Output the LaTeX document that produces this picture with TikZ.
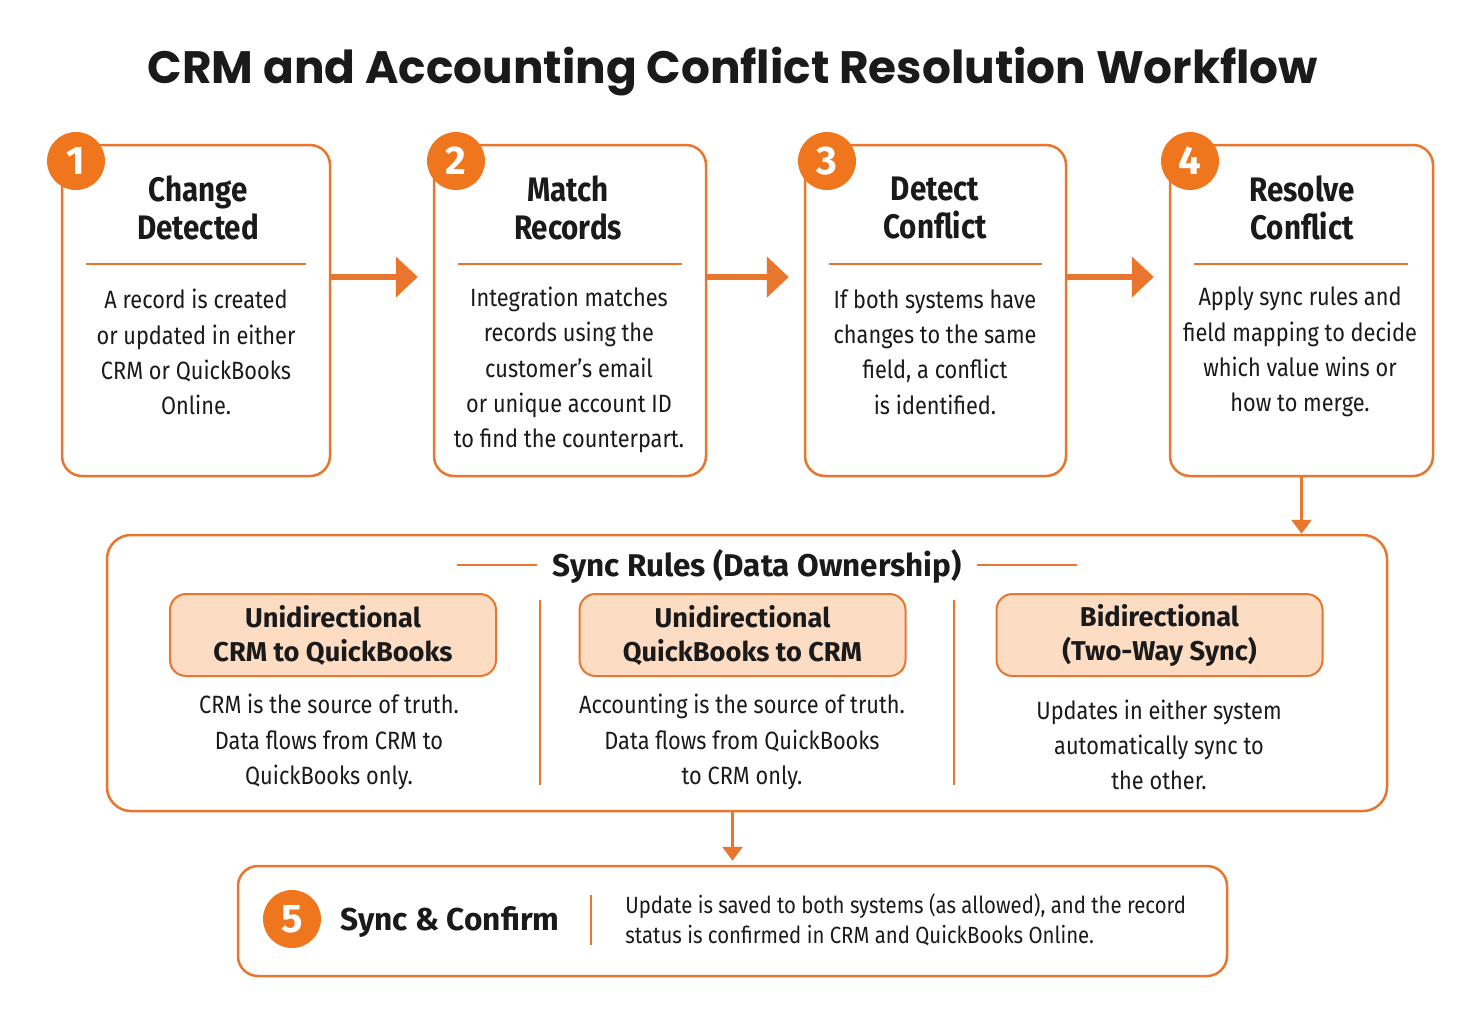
\documentclass[tikz,border=0pt]{standalone}
\usepackage{fontspec}
\setmainfont{Fira Sans}[FakeStretch=0.87]
\newfontfamily\widefont{Fira Sans}
\newfontfamily\titlefont{Poppins}
\usetikzlibrary{arrows.meta, positioning, calc}
\definecolor{accent}{HTML}{E8762D}
\definecolor{badgefill}{HTML}{F0761E}
\definecolor{peach}{HTML}{FCDCC3}
\definecolor{ink}{HTML}{1A1A1A}
\tikzset{ stepbox/.style = { draw = accent
                           , line width    = 1.25pt
                           , rounded corners = 10pt
                           , fill          = white
                           , minimum height = 165.5pt
                           },
          badge/.style   = { circle
                           , fill          = badgefill
                           , text          = white
                           , inner sep     = 0pt
                           , minimum size  = 29pt
                           , font          = \widefont\fontsize{20}{20}\selectfont\bfseries
                           },
          head/.style    = { align = center
                           , text  = ink
                           , font  = \fontsize{17}{19}\selectfont\bfseries
                           },
          body/.style    = { align = center
                           , text  = ink
                           , font  = \fontsize{12.5}{17.6}\selectfont
                           },
          rulebox/.style = { draw = accent
                           , line width    = 1pt
                           , rounded corners = 8pt
                           , fill          = peach
                           , minimum width  = 163pt
                           , minimum height = 41pt
                           , align = center
                           , text  = ink
                           , font  = \widefont\fontsize{13.6}{17}\selectfont\bfseries
                           },
          sep/.style     = { draw = accent, line width = 1pt },
          flow/.style    = { draw = accent
                           , line width = 3pt
                           , -{Triangle[length=11pt, width=20pt]}
                           , shorten > = 7.5pt
                           },
          down/.style    = { draw = accent
                           , line width = 1.5pt
                           , -{Triangle[length=7pt, width=10pt]}
                           }
        }
\begin{document}
\begin{tikzpicture}[x=0.5pt, y=-0.5pt]
    \useasboundingbox (0,0) rectangle (1482,1023);
    \node[text=ink, font=\titlefont\fontsize{22.7}{24}\selectfont\bfseries] (title) at (733,72)
        {CRM and Accounting Conflict Resolution Workflow};

    % the four steps
    \node[stepbox, minimum width=134pt]   (step1) at (196,310.5) {};
    \node[stepbox, minimum width=136pt]   (step2) at (570,310.5) {};
    \node[stepbox, minimum width=130.5pt] (step3) at (935.5,310.5) {};
    \node[stepbox, minimum width=131.5pt] (step4) at (1301.5,310.5) {};

    \node[badge] (n1) at (76,161)   {1};
    \node[badge] (n2) at (456,161)  {2};
    \node[badge] (n3) at (827,161)  {3};
    \node[badge] (n4) at (1190,161) {4};

    \node[head] (h1) at (198,208)  {Change\\Detected};
    \node[head] (h2) at (568,208)  {Match\\Records};
    \node[head] (h3) at (935,208)  {Detect\\Conflict};
    \node[head] (h4) at (1302,208) {Resolve\\Conflict};

    \draw[sep] (86,264) -- (306,264);
    \draw[sep] (458,264) -- (682,264);
    \draw[sep] (829,264) -- (1042,264);
    \draw[sep] (1194,264) -- (1408,264);

    \node[body] (b1) at (196,352)  {A record is created\\or updated in either\\CRM or QuickBooks\\Online.};
    \node[body] (b2) at (569,370)  {Integration matches\\records using the\\customer’s email\\or unique account ID\\to find the counterpart.};
    \node[body] (b3) at (935,352)  {If both systems have\\changes to the same\\field, a conflict\\is identified.};
    \node[body] (b4) at (1300,352) {Apply sync rules and\\field mapping to decide\\which value wins or\\how to merge.};

    \draw[flow] ([yshift=16.75pt]step1.east) -- ([yshift=16.75pt]step2.west);
    \draw[flow] ([yshift=16.75pt]step2.east) -- ([yshift=16.75pt]step3.west);
    \draw[flow] ([yshift=16.75pt]step3.east) -- ([yshift=16.75pt]step4.west);

    % sync rules
    \node[draw=accent, line width=1.25pt, rounded corners=12pt, minimum width=640pt, minimum height=138pt]
        (rules) at (747,673) {};
    \draw[down] (step4.south) -- (step4.south |- rules.north);
    \node[text=ink, font=\widefont\fontsize{15.7}{19}\selectfont\bfseries] (rtitle) at (757,566) {Sync Rules (Data Ownership)};
    \draw[sep] (457,565) -- (537,565);
    \draw[sep] (977,565) -- (1077,565);

    \node[rulebox] (r1) at (333,635)    {Unidirectional\\CRM to QuickBooks};
    \node[rulebox] (r2) at (742.5,635)  {Unidirectional\\QuickBooks to CRM};
    \node[rulebox] (r3) at (1159.5,635) {Bidirectional\\(Two-Way Sync)};

    \draw[sep] (540,600) -- (540,785);
    \draw[sep] (954,600) -- (954,785);

    \node[body] (t1) at (329,742)  {CRM is the source of truth.\\Data flows from CRM to\\QuickBooks only.};
    \node[body] (t2) at (742,742)  {Accounting is the source of truth.\\Data flows from QuickBooks\\to CRM only.};
    \node[body] (t3) at (1159,745) {Updates in either system\\automatically sync to\\the other.};

    % final step
    \node[draw=accent, line width=1.25pt, rounded corners=10pt, minimum width=494.5pt, minimum height=55pt]
        (final) at (732.5,921) {};
    \draw[down, shorten >=2pt] (final.north |- rules.south) -- (final.north);
    \node[badge] (n5) at (292,919) {5};
    \node[text=ink, font=\widefont\fontsize{15.8}{19}\selectfont\bfseries, anchor=west, inner sep=0pt] (ftitle) at (340,922) {Sync \& Confirm};
    \draw[sep] (591,895) -- (591,945);
    \node[text=ink, font=\fontsize{11.7}{15}\selectfont, align=left, anchor=west, inner sep=0pt] (ftext) at (625,920)
        {Update is saved to both systems (as allowed), and the record\\status is confirmed in CRM and QuickBooks Online.};
\end{tikzpicture}
\end{document}
